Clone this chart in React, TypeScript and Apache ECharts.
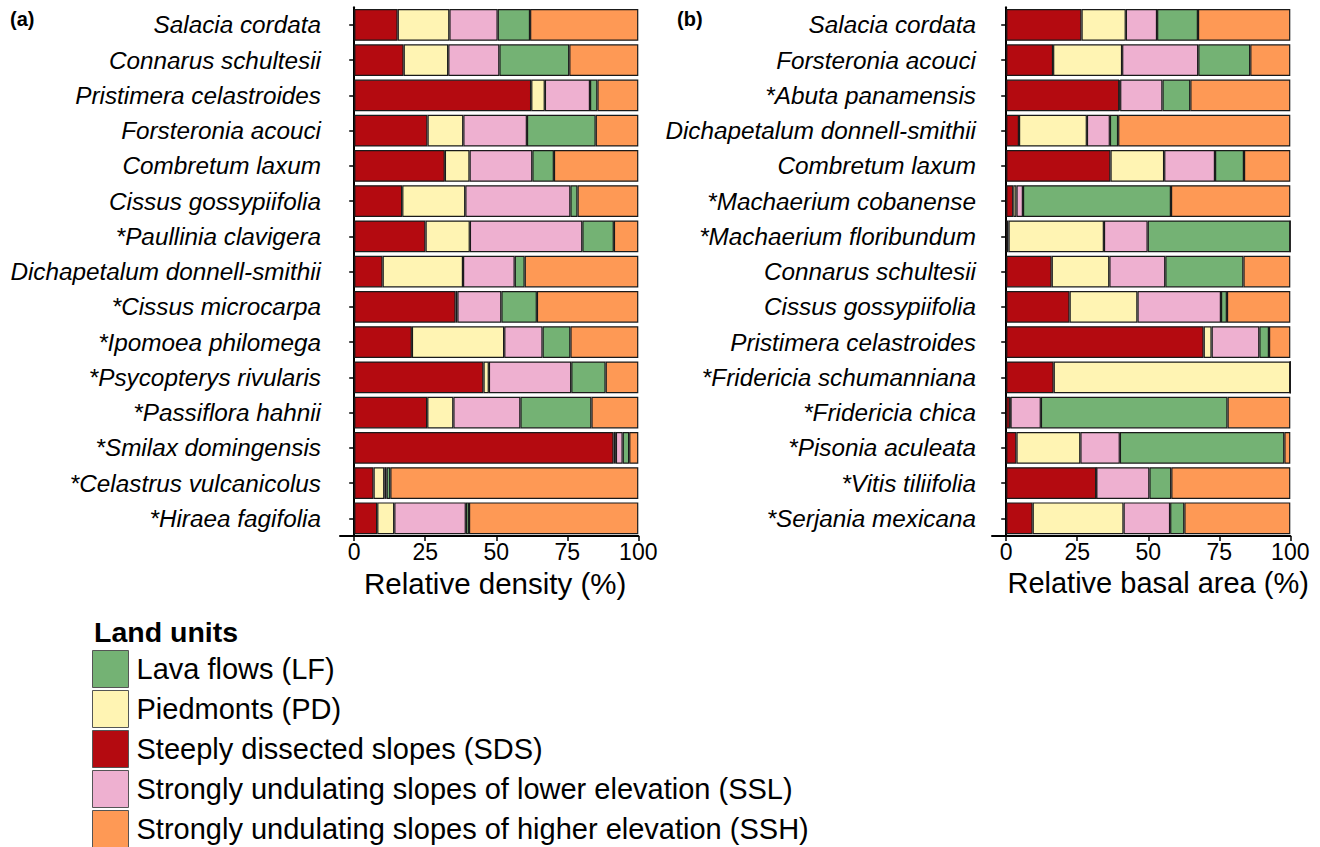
import React, { useEffect, useRef } from "react";
import * as echarts from "echarts";

// Land units, in stacking order (left to right inside each bar)
const unitNames = [
  "Steeply dissected slopes (SDS)",
  "Piedmonts (PD)",
  "Strongly undulating slopes of lower elevation (SSL)",
  "Lava flows (LF)",
  "Strongly undulating slopes of higher elevation (SSH)",
];
const unitColors = ["#B40A10", "#FFF4B3", "#EEB0D0", "#74B274", "#FE9955"];
// Legend order
const legendOrder = [
  "Lava flows (LF)",
  "Piedmonts (PD)",
  "Steeply dissected slopes (SDS)",
  "Strongly undulating slopes of lower elevation (SSL)",
  "Strongly undulating slopes of higher elevation (SSH)",
];

// (a) Relative density (%)
const densitySpecies = [
  "Salacia cordata",
  "Connarus schultesii",
  "Pristimera celastroides",
  "Forsteronia acouci",
  "Combretum laxum",
  "Cissus gossypiifolia",
  "*Paullinia clavigera",
  "Dichapetalum donnell-smithii",
  "*Cissus microcarpa",
  "*Ipomoea philomega",
  "*Psycopterys rivularis",
  "*Passiflora hahnii",
  "*Smilax domingensis",
  "*Celastrus vulcanicolus",
  "*Hiraea fagifolia",
];
const densitySDS = [15.3, 17.4, 62.3, 25.8, 31.9, 16.9, 25.1, 10.0, 35.7, 20.3, 45.5, 25.7, 91.3, 6.8, 8.1];
const densityPD = [18.2, 15.7, 4.8, 12.6, 8.7, 22.2, 15.6, 28.3, 0.6, 32.5, 1.9, 9.2, 0.8, 3.8, 6.0];
const densitySSL = [17.0, 18.0, 15.9, 22.4, 22.1, 37.0, 39.6, 18.2, 15.5, 13.5, 29.0, 23.6, 2.4, 0.8, 25.2];
const densityLF = [11.4, 24.6, 2.6, 24.2, 7.6, 2.5, 11.1, 3.5, 12.5, 9.8, 12.1, 25.0, 2.3, 1.3, 1.1];
const densitySSH = [38.1, 24.3, 14.4, 15.0, 29.7, 21.4, 8.6, 40.0, 35.7, 23.9, 11.5, 16.5, 3.2, 87.3, 59.6];

// (b) Relative basal area (%)
const basalSpecies = [
  "Salacia cordata",
  "Forsteronia acouci",
  "*Abuta panamensis",
  "Dichapetalum donnell-smithii",
  "Combretum laxum",
  "*Machaerium cobanense",
  "*Machaerium floribundum",
  "Connarus schultesii",
  "Cissus gossypiifolia",
  "Pristimera celastroides",
  "*Fridericia schumanniana",
  "*Fridericia chica",
  "*Pisonia aculeata",
  "*Vitis tiliifolia",
  "*Serjania mexicana",
];
const basalSDS = [26.5, 16.5, 39.8, 4.5, 36.7, 2.5, 0.8, 16.0, 22.3, 69.5, 16.7, 1.3, 3.6, 31.7, 9.3];
const basalPD = [15.6, 24.3, 0.3, 23.9, 18.9, 1.1, 33.6, 20.3, 23.9, 2.8, 83.3, 0.2, 22.5, 0, 32.0];
const basalSSL = [11.0, 26.8, 14.9, 8.1, 17.9, 2.3, 15.4, 19.7, 29.4, 16.8, 0, 10.7, 13.9, 18.7, 16.4];
const basalLF = [14.4, 18.3, 9.8, 2.9, 10.2, 52.1, 50.2, 27.5, 2.1, 3.4, 0, 65.7, 57.9, 7.7, 5.0];
const basalSSH = [32.5, 14.1, 35.2, 60.6, 16.3, 42.0, 0, 16.5, 22.3, 7.5, 0, 22.1, 2.1, 41.9, 37.3];

const xTicks = [0, 25, 50, 75, 100];
const FONT = "'Liberation Sans', Arial, Helvetica, sans-serif";

export default function App() {
  const ref = useRef<HTMLDivElement>(null);

  useEffect(() => {
    if (!ref.current) return;
    const chart = echarts.init(ref.current, null, { renderer: "svg" });

    const densityData = [densitySDS, densityPD, densitySSL, densityLF, densitySSH];
    const basalData = [basalSDS, basalPD, basalSSL, basalLF, basalSSH];

    const makeSeries = (data: number[][], idx: number) =>
      unitNames.map((name, i) => ({
        type: "bar",
        name,
        stack: "panel" + idx,
        xAxisIndex: idx,
        yAxisIndex: idx,
        barWidth: "90%",
        data: data[i],
        itemStyle: { color: unitColors[i], borderColor: "#1a1a1a", borderWidth: 1.2 },
        emphasis: { disabled: true },
      }));

    const makeXAxis = (idx: number, name: string, shift: number, size: number) => ({
      type: "value",
      gridIndex: idx,
      min: -5,
      max: 100,
      name,
      nameLocation: "middle",
      nameGap: 28,
      nameTextStyle: { fontSize: size, color: "#000", fontFamily: FONT, padding: [0, 0, 0, shift] },
      axisLine: { show: true, lineStyle: { color: "#000", width: 2 } },
      axisTick: { show: true, length: 5, customValues: xTicks, lineStyle: { color: "#000", width: 1.5 } },
      axisLabel: { customValues: xTicks, fontSize: 23, color: "#000", margin: 5, fontFamily: FONT },
      splitLine: { show: false },
    });

    const makeYAxis = (idx: number, cats: string[], margin: number) => ({
      type: "category",
      gridIndex: idx,
      data: cats,
      inverse: true,
      axisLine: { show: true, lineStyle: { color: "#000", width: 2 } },
      axisTick: { show: true, length: 5, alignWithLabel: true, lineStyle: { color: "#000", width: 1.5 } },
      axisLabel: { fontSize: 24.3, fontStyle: "italic", color: "#000", margin, fontFamily: FONT },
      splitLine: { show: false },
    });

    chart.setOption({
      animation: false,
      textStyle: { fontFamily: FONT },
      title: [
        { text: "(a)", left: 5, top: 4, textStyle: { fontSize: 20, fontWeight: "bold", color: "#000", fontFamily: FONT } },
        { text: "(b)", left: 672, top: 4, textStyle: { fontSize: 20, fontWeight: "bold", color: "#000", fontFamily: FONT } },
        { text: "Land units", left: 89, top: 612, textStyle: { fontSize: 28.5, fontWeight: "bold", color: "#000", fontFamily: FONT } },
      ],
      grid: [
        { left: 340, top: 7.3, width: 298.3, height: 528.6 },
        { left: 992, top: 7.3, width: 298.3, height: 528.6 },
      ],
      xAxis: [
        makeXAxis(0, "Relative density (%)", 12, 29.5),
        makeXAxis(1, "Relative basal area (%)", 34, 29),
      ],
      yAxis: [makeYAxis(0, densitySpecies, 19), makeYAxis(1, basalSpecies, 16)],
      legend: {
        data: legendOrder,
        orient: "vertical",
        left: 87,
        top: 645,
        height: 220,
        itemWidth: 36,
        itemHeight: 37,
        itemGap: 2,
        icon: "rect",
        selectedMode: false,
        itemStyle: { borderColor: "#555", borderWidth: 1 },
        textStyle: { fontSize: 29, color: "#000", fontFamily: FONT, padding: [0, 0, 0, 3] },
      },
      series: [...makeSeries(densityData, 0), ...makeSeries(basalData, 1)],
    });

    return () => chart.dispose();
  }, []);

  return (
    <div
      ref={ref}
      style={{ position: "fixed", left: 0, top: 0, width: 1320, height: 847, background: "#fff" }}
    />
  );
}
